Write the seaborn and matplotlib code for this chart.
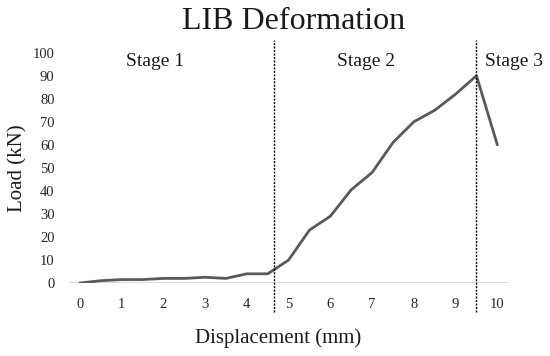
import pandas as pd
import seaborn as sns
import matplotlib.pyplot as plt

# valores
deslocamento = [0, 0.5, 1, 1.5, 2, 2.5, 3, 3.5, 4, 4.5, 5,
                5.5, 6, 6.5, 7, 7.5, 8, 8.5, 9, 9.5, 10]
carga = [0, 1, 1.5, 1.5, 2, 2, 2.5, 2, 4, 4, 10,
         23, 29, 40.5, 48, 61, 70, 75, 82, 90, 60]
limites_estagio = [4.65, 9.5]
nomes_estagio = ['Stage 1', 'Stage 2', 'Stage 3']
posicao_estagio = [1.8, 6.85, 10.4]
ticks_x = [0, 1, 2, 3, 4, 5, 6, 7, 8, 9, 10]
ticks_y = [0, 10, 20, 30, 40, 50, 60, 70, 80, 90, 100]

df = pd.DataFrame({'deslocamento': deslocamento, 'carga': carga})

sns.set_style('white')
plt.rcParams['font.family'] = ['Liberation Serif', 'DejaVu Serif']
plt.rcParams['text.color'] = '#1a1a1a'
plt.rcParams['axes.labelcolor'] = '#1a1a1a'
plt.rcParams['xtick.color'] = '#262626'
plt.rcParams['ytick.color'] = '#262626'

fig = plt.figure(figsize=(5.5, 3.56), dpi=100)
ax = fig.add_axes([0.127, 0.205, 0.797, 0.647])

sns.lineplot(data=df, x='deslocamento', y='carga', color='#595959', linewidth=2.0, ax=ax)

ax.set_xlim(-0.24, 10.26)
ax.set_ylim(0, 100)
ax.set_xticks(ticks_x)
ax.set_yticks(ticks_y)
ax.tick_params(axis='both', length=0, labelsize=10.5)
ax.tick_params(axis='y', pad=11)
ax.tick_params(axis='x', pad=11)
sns.despine(ax=ax, left=True, bottom=True, top=True, right=True)
ax.axhline(0, color='#d9d9d9', linewidth=1.5, zorder=0)

for lim in limites_estagio:
    ax.axvline(lim, ymin=-0.126, ymax=1.054, color='black', linestyle=(0, (1.5, 1)),
               linewidth=1.0, clip_on=False)

for nome, pos in zip(nomes_estagio, posicao_estagio):
    ax.text(pos, 96, nome, ha='center', va='center', fontsize=14)

ax.set_title('LIB Deformation', fontsize=23, pad=17, x=0.511)
ax.set_xlabel('Displacement (mm)', fontsize=15, labelpad=12)
ax.xaxis.label.set_x(0.475)
ax.set_ylabel('Load (kN)', fontsize=15, labelpad=4)

fig.savefig('out.png', dpi=100)
